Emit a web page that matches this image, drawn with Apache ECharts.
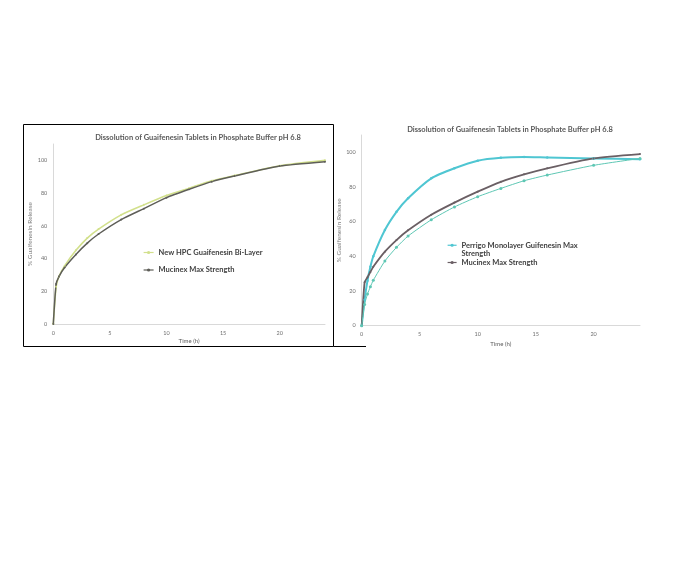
<!DOCTYPE html>
<html>
<head>
<meta charset="utf-8">
<script src="https://cdn.jsdelivr.net/npm/echarts@6/dist/echarts.min.js"></script>
<style>
  html, body { margin: 0; padding: 0; background: #ffffff; }
  #chart { width: 696px; height: 564px; }
</style>
</head>
<body>
<div id="chart"></div>
<script>
// Sampling times (hours)
const timesLeft = [0, 0.25, 0.5, 1, 2, 3, 4, 6, 8, 10, 12, 14, 16, 20, 24];
const timesRight = [0, 0.25, 0.5, 0.75, 1, 2, 3, 4, 6, 8, 10, 12, 14, 16, 20, 24];

// Left panel: % released
const newHpcBiLayer = [0, 22.8, 29, 35.5, 45, 52.5, 58, 66.7, 72.8, 78.5, 83, 87.5, 90.7, 96.7, 100];
const mucinexLeft   = [0, 24.5, 29, 34.5, 42.5, 49.4, 55, 63.8, 70.5, 77.2, 82.3, 87, 90.4, 96.5, 99.2];

// Right panel: % released
const perrigoMono   = [0, 15, 26, 34, 40, 55.2, 65.7, 73.5, 85, 90.8, 95.2, 96.9, 97.3, 97, 96.5, 96];
const mucinexRight  = [0, 25, 28, 31, 34, 42.7, 49.4, 55, 64, 71, 77.3, 83, 87.3, 90.8, 96.5, 99];
const perrigoRepeat = [0, 12.3, 18.3, 22.5, 26.2, 37.3, 45.2, 51.7, 61.1, 68.5, 74.4, 79.2, 83.6, 86.9, 92.5, 96.5];

const yTicks = [0, 20, 40, 60, 80, 100];
const xTicks = [0, 5, 10, 15, 20];

const titleText = 'Dissolution of Guaifenesin Tablets in Phosphate Buffer pH 6.8';
const legendNew = 'New HPC Guaifenesin Bi-Layer';
const legendMuc = 'Mucinex Max Strength';
const legendPerrigo = 'Perrigo Monolayer Guifenesin Max Strength';
const legendMucR = 'Mucinex Max Strength ';

const FONT = 'Lato';
const pair = (xs, ys) => xs.map((x, i) => [x, ys[i]]);

function xAxisFor(gridIndex, gap) {
  return {
    type: 'value', gridIndex, min: 0, max: 24, interval: 5,
    name: 'Time (h)', nameLocation: 'middle', nameGap: gap,
    nameTextStyle: { fontFamily: FONT, fontSize: 6, color: '#595959' },
    axisLine: { show: true, lineStyle: { color: '#d9d9d9', width: 1 } },
    axisTick: { show: false },
    splitLine: { show: false },
    axisLabel: {
      fontFamily: FONT, fontSize: 5.5, color: '#6f6f6f', margin: 6,
      showMaxLabel: false,
      formatter: v => (xTicks.includes(v) ? String(v) : '')
    }
  };
}
function yAxisFor(gridIndex, gap, margin) {
  return {
    type: 'value', gridIndex, min: 0, max: 110, interval: 20,
    name: '% Guaifenesin Release', nameLocation: 'middle', nameGap: gap,
    nameRotate: 90,
    nameTextStyle: { fontFamily: FONT, fontSize: 6.5, color: '#7f7f7f' },
    axisLine: { show: true, lineStyle: { color: '#d9d9d9', width: 1 } },
    axisTick: { show: false },
    splitLine: { show: false },
    axisLabel: {
      fontFamily: FONT, fontSize: 5.5, color: '#6f6f6f', margin: margin,
      showMaxLabel: false,
      formatter: v => (yTicks.includes(v) ? String(v) : '')
    }
  };
}

function lineSeries(name, xi, data, color, width, symSize) {
  return {
    name, type: 'line', xAxisIndex: xi, yAxisIndex: xi,
    data, smooth: 0.2,
    symbol: 'circle', symbolSize: symSize, showSymbol: symSize > 0,
    lineStyle: { color, width },
    itemStyle: { color },
    emphasis: { disabled: true },
    z: 3
  };
}

const legendText = { fontFamily: FONT, fontSize: 7.5, fontWeight: 'bold', color: '#404040' };

const chart = echarts.init(document.getElementById('chart'), null, { renderer: 'canvas' });

chart.setOption({
  animation: false,
  backgroundColor: '#ffffff',
  title: [
    { text: titleText, left: 193, top: 129, textAlign: 'center',
      textStyle: { fontFamily: FONT, fontSize: 7.5, fontWeight: 'bold', color: '#595959' } },
    { text: titleText, left: 505, top: 120.5, textAlign: 'center',
      textStyle: { fontFamily: FONT, fontSize: 7.5, fontWeight: 'bold', color: '#595959' } }
  ],
  grid: [
    { left: 53.3, top: 144, width: 271.7, height: 180 },
    { left: 361.7, top: 135, width: 278.3, height: 190.7 }
  ],
  xAxis: [xAxisFor(0, 14), xAxisFor(1, 15)],
  yAxis: [yAxisFor(0, 15, 6), yAxisFor(1, 15, 6)],
  legend: [
    { data: [legendNew], left: 138, top: 243.5, itemWidth: 10, itemHeight: 4,
      lineStyle: { width: 1.2 }, textStyle: legendText },
    { data: [legendMuc], left: 138, top: 261, itemWidth: 10, itemHeight: 4,
      lineStyle: { width: 1.2 }, textStyle: legendText },
    { data: [legendPerrigo], left: 442, top: 227.5, itemWidth: 9, itemHeight: 4,
      lineStyle: { width: 1.2 },
      formatter: () => '\nPerrigo Monolayer Guifenesin Max\nStrength',
      textStyle: Object.assign({ lineHeight: 8.5 }, legendText) },
    { data: [legendMucR], left: 442, top: 253.5, itemWidth: 9, itemHeight: 4,
      lineStyle: { width: 1.2 }, textStyle: legendText }
  ],
  graphic: [
    { type: 'rect', shape: { x: 23.5, y: 124.5, width: 310, height: 222 },
      style: { fill: null, stroke: '#000000', lineWidth: 1 }, z: 10 },
    { type: 'line', shape: { x1: 333.5, y1: 346.5, x2: 366, y2: 346.5 },
      style: { stroke: '#000000', lineWidth: 1 }, z: 10 }
  ],
  series: [
    lineSeries(legendNew, 0, pair(timesLeft, newHpcBiLayer), '#d2e08c', 1.6, 2),
    lineSeries(legendMuc, 0, pair(timesLeft, mucinexLeft), '#5e5e58', 1.5, 2),
    lineSeries(legendPerrigo, 1, pair(timesRight, perrigoMono), '#4fc6d2', 2, 2.5),
    lineSeries(legendMucR, 1, pair(timesRight, mucinexRight), '#6a5f64', 1.8, 2),
    lineSeries('Perrigo repeat', 1, pair(timesRight, perrigoRepeat), '#5ec7b4', 1, 3)
  ]
});
</script>
</body>
</html>
